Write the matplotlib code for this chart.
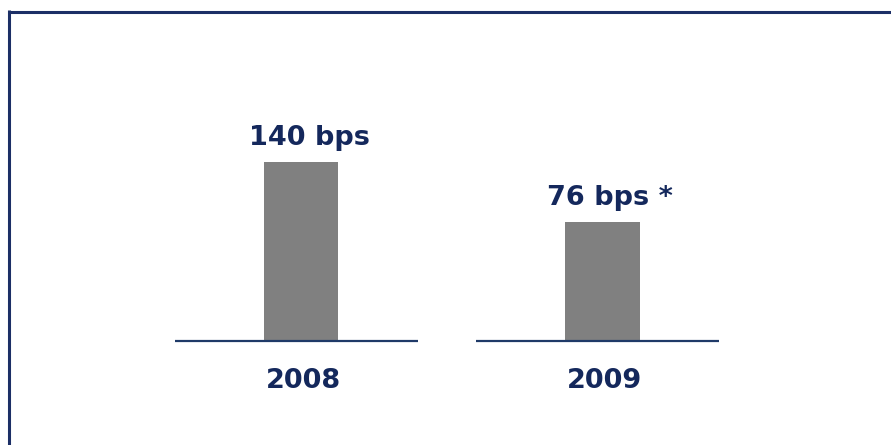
import matplotlib.pyplot as plt
from matplotlib.lines import Line2D
import numpy as np

years = ['2008', '2009']
spreads = np.array([140, 76])          # bps
labels = ['140 bps', '76 bps *']

navy = '#14285c'
floor = -51   # value where the bars start

fig = plt.figure(figsize=(8.91, 4.45), dpi=100)
ax = fig.add_axes([0, 0, 1, 1])
ax.set_xlim(-1.0, 1.96)
ax.set_ylim(-161.8, 312.9)
ax.axis('off')

x = np.arange(len(years))
ax.bar(x, spreads - floor, bottom=floor, width=0.249, color='#808080')

# short base line under each bar
ax.hlines([floor] * len(x), x - 0.42, x + 0.387, color='#1f3a68', lw=1.6)

for xi, v, lab, yr in zip(x, spreads, labels, years):
    ax.annotate(lab, xy=(xi, v), xytext=(6, 12), textcoords='offset points',
                ha='center', va='baseline', fontsize=19.5, fontweight='bold',
                color=navy)
    ax.annotate(yr, xy=(xi, floor), xytext=(2, -34), textcoords='offset points',
                ha='center', va='baseline', fontsize=19.5, fontweight='bold',
                color=navy)

# frame on top and left
W, H = 891, 445
fig.add_artist(Line2D([8 / W, 1], [1 - 11.5 / H, 1 - 11.5 / H],
                      transform=fig.transFigure, color='#1c2f66', lw=2.2,
                      solid_capstyle='butt'))
fig.add_artist(Line2D([8.5 / W, 8.5 / W], [0, 1 - 10 / H],
                      transform=fig.transFigure, color='#1c2f66', lw=2.2,
                      solid_capstyle='butt'))

fig.savefig('out.png', dpi=100)
